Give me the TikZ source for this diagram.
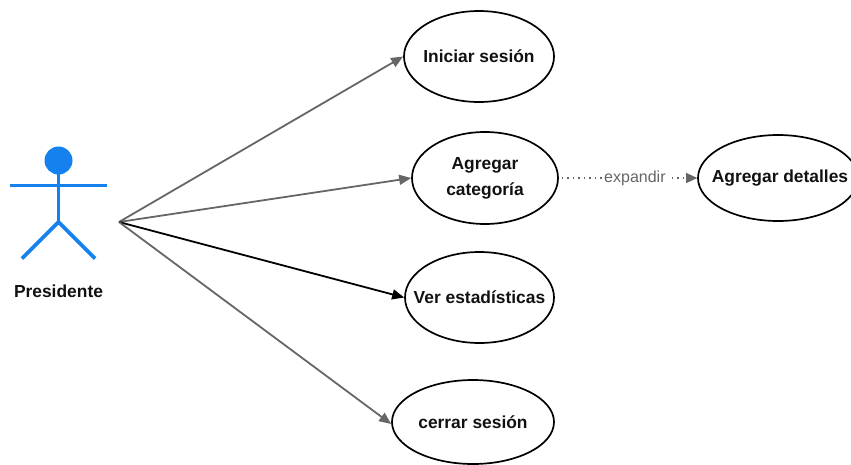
\documentclass[tikz,border=0pt]{standalone}
\usepackage{fontspec}
\setmainfont{Liberation Sans}
\usetikzlibrary{shapes.geometric,arrows.meta}
\definecolor{actorblue}{HTML}{1581EE}
\definecolor{linegrey}{HTML}{666666}
\definecolor{inkdark}{HTML}{111111}
\newcommand{\uctext}[1]{\makebox[0pt][c]{#1}}
\tikzset{
  x=1pt,y=-1pt,
  usecase/.style={draw=black,line width=1.7pt,ellipse,inner sep=0pt,align=center,font=\fontsize{17.4}{26}\selectfont\bfseries,text=inkdark},
  assoc/.style={draw=linegrey,line width=1.8pt,-{Triangle[length=12pt,width=10pt]}},
  assocdark/.style={assoc,draw=black},
  ext/.style={draw=linegrey,line width=1.5pt,dash pattern=on 1.5pt off 4pt,-{Triangle[length=11pt,width=10pt,fill=linegrey]}},
  limb/.style={draw=actorblue,line width=3.8pt},
}
\begin{document}
\begin{tikzpicture}
\useasboundingbox (0,0) rectangle (851,464);
\node[usecase,minimum width=150pt,minimum height=91pt] (a) at (479,56.5) {\raisebox{1pt}{\uctext{Iniciar sesión}}};
\node[usecase,minimum width=146pt,minimum height=92pt] (b) at (485,178) {\raisebox{-1pt}{\uctext{Agregar}}\\\raisebox{-1pt}{\uctext{categoría}}};
\node[usecase,minimum width=149pt,minimum height=91pt] (c) at (479.5,297.5) {\uctext{Ver estadísticas}};
\node[usecase,minimum width=162pt,minimum height=84pt] (d) at (473,422) {\uctext{cerrar sesión}};
\node[usecase,minimum width=160pt,minimum height=86pt] (e) at (778,178) {\hspace{4pt}\uctext{Agregar detalles}};
\coordinate (hub) at (119,222);
\draw[assoc] (hub) -- (a.west);
\draw[assoc] (hub) -- (b.west);
\draw[assocdark] (hub) -- (c.west);
\draw[assoc] (hub) -- ([yshift=-2pt]d.west);
\draw[ext] ([xshift=3pt]b.east) -- node[pos=0.54,fill=white,inner sep=2pt,font=\fontsize{16}{18}\selectfont,text=linegrey]{expandir} (e.west);
\fill[actorblue] (58.5,160.5) circle (14pt);
\coordinate (neck) at (58.5,174);
\coordinate (hip) at (58.5,222);
\draw[limb] (neck) -- (hip);
\draw[limb] (10,185.5) -- (107,185.5);
\draw[limb] (22,258.5) -- (hip) -- (95,258.5);
\node[font=\fontsize{17.4}{19}\selectfont\bfseries,text=inkdark] (p) at (58.5,291) {Presidente};
\end{tikzpicture}
\end{document}
